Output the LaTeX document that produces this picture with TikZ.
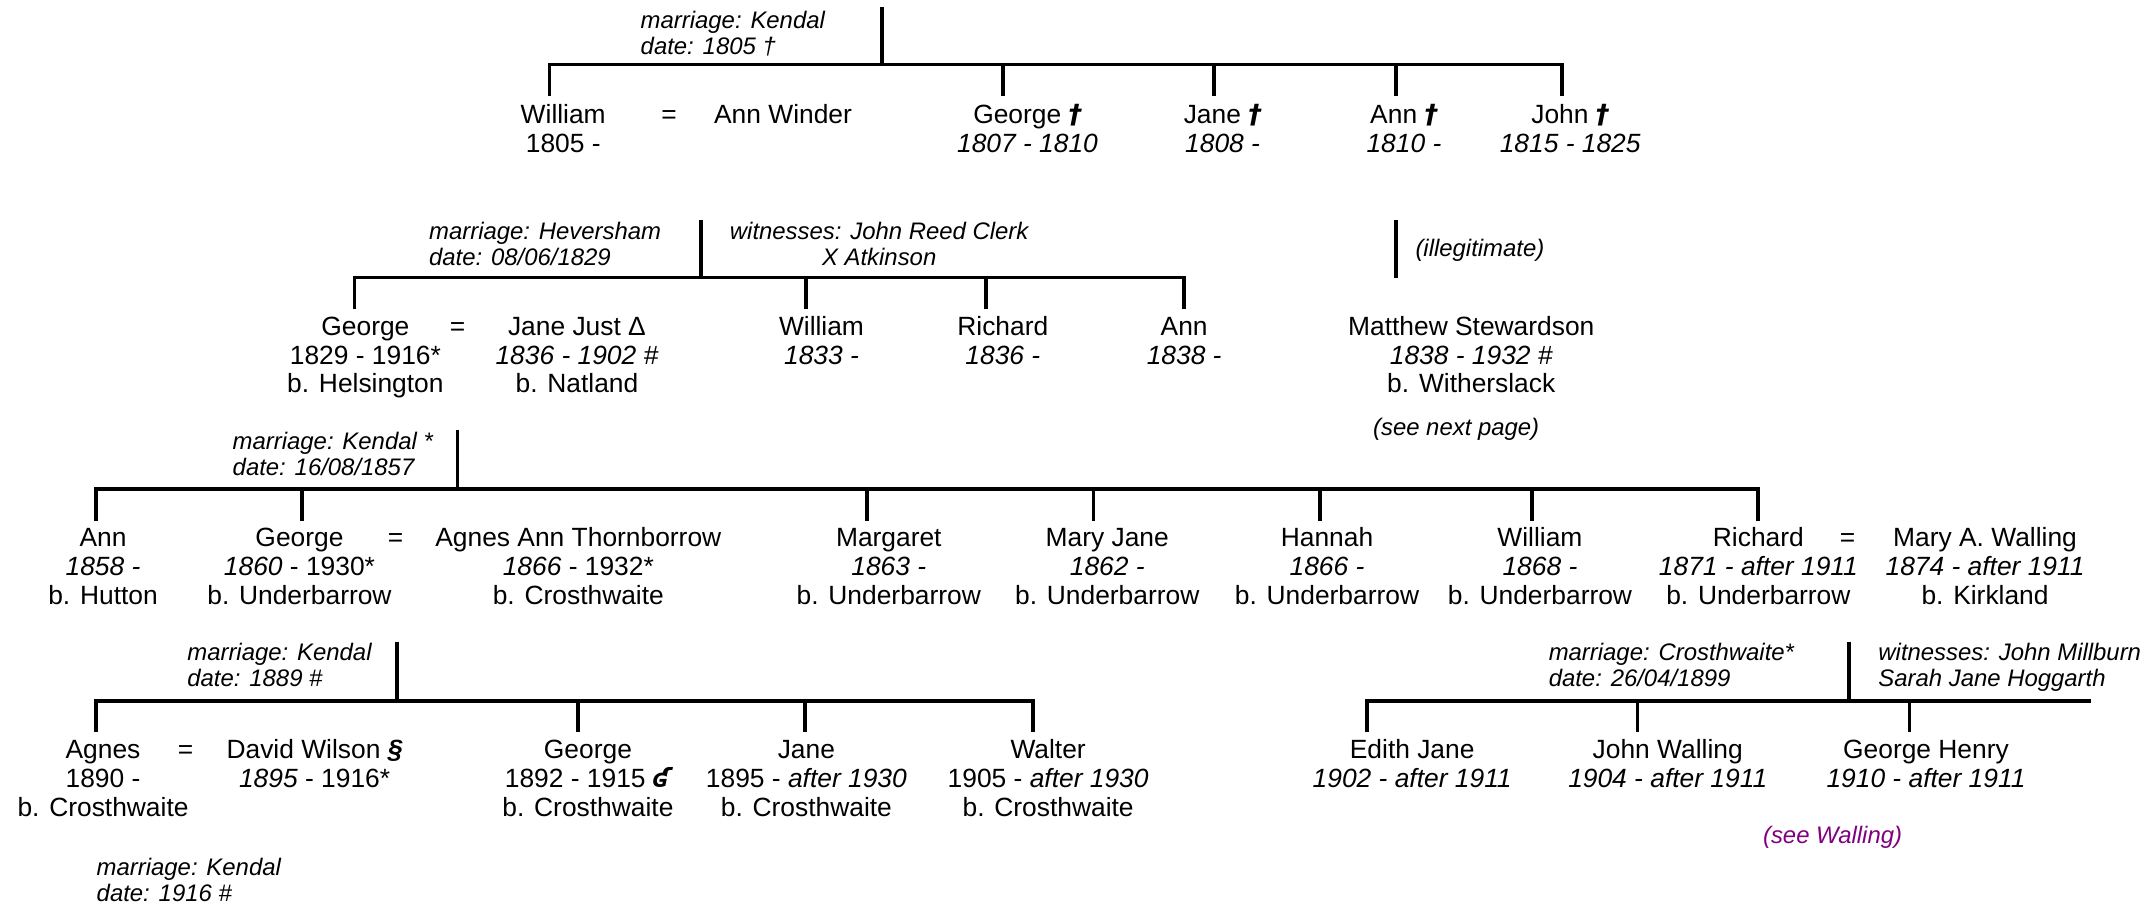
\documentclass[tikz,border=0pt]{standalone}
\usepackage{fontspec}
\setmainfont{Liberation Sans}
\newfontfamily\djv{DejaVu Sans}
\definecolor{seecol}{RGB}{128,0,128}
\newcommand{\mainsz}{\fontsize{9.6}{10.5}\selectfont}
\newcommand{\smsz}{\fontsize{8.7}{9.5}\selectfont\itshape}
\newcommand{\cblk}[1]{\begin{tabular}[t]{@{}c@{}}#1\end{tabular}}
\newcommand{\lblk}[1]{\begin{tabular}[t]{@{}l@{}}#1\end{tabular}}
\newcommand{\dg}{{\djv\bfseries\itshape †}}
\begin{document}
\begin{tikzpicture}[x=0.5pt,y=-0.5pt,
  person/.style={anchor=base,inner sep=0pt,font=\mainsz},
  note/.style={anchor=base west,inner sep=0pt,font=\smsz},
  cnote/.style={anchor=base,inner sep=0pt,font=\smsz},
  line/.style={line width=1.4pt}]
\useasboundingbox (0,0) rectangle (1568,659.6);

% ---------- generation 1 ----------
\coordinate (p1) at (642,5);
\coordinate (j1) at (642,47);
\coordinate (d1a) at (400,70);
\coordinate (d1b) at (730,70);
\coordinate (d1c) at (884,70);
\coordinate (d1d) at (1016,70);
\coordinate (d1e) at (1137,70);
\draw[line] (p1) -- (j1);
\draw[line] (d1a) |- (d1e |- j1) -- (d1e);
\foreach \d in {d1b,d1c,d1d} \draw[line] (\d) -- (\d |- j1);
\node[note] (m1) at (466,21) {\lblk{marriage: Kendal\\date: 1805 †}};
\node[person] (w1) at (410,90) {\cblk{William\\1805 -}};
\node[person] (e1) at (487,90) {=};
\node[person] (aw1) at (570,90) {Ann Winder};
\node[person] (g1) at (748,90) {\cblk{George \dg\\\itshape 1807 - 1810}};
\node[person] (ja1) at (890,90) {\cblk{Jane \dg\\\itshape 1808 -}};
\node[person] (an1) at (1022,90) {\cblk{Ann \dg\\\itshape 1810 -}};
\node[person] (jo1) at (1143,90) {\cblk{John \dg\\\itshape 1815 - 1825}};

% ---------- generation 2 ----------
\coordinate (p2) at (510,160);
\coordinate (j2) at (510,202);
\coordinate (d2a) at (258,225);
\coordinate (d2b) at (587,225);
\coordinate (d2c) at (718,225);
\coordinate (d2d) at (862,225);
\draw[line] (p2) -- (j2);
\draw[line] (d2a) |- (d2d |- j2) -- (d2d);
\foreach \d in {d2b,d2c} \draw[line] (\d) -- (\d |- j2);
\node[note] (m2) at (312,174) {\lblk{marriage: Heversham\\date: 08/06/1829}};
\node[cnote] (wt2) at (640,174) {\cblk{witnesses: John Reed Clerk\\X Atkinson}};
\node[person] (g2) at (266,244) {\cblk{George\\1829 - 1916*\\b. Helsington}};
\node[person] (e2) at (333,244) {=};
\node[person] (jj2) at (420,244) {\cblk{Jane Just Δ\\\itshape 1836 - 1902 \#\\b. Natland}};
\node[person] (w2) at (598,244) {\cblk{William\\\itshape 1833 -}};
\node[person] (r2) at (730,244) {\cblk{Richard\\\itshape 1836 -}};
\node[person] (a2) at (862,244) {\cblk{Ann\\\itshape 1838 -}};

% illegitimate branch
\coordinate (p3) at (1016,160);
\coordinate (q3) at (1016,202);
\draw[line] (p3) -- (q3);
\node[note] (il) at (1030,187) {(illegitimate)};
\node[person] (ms) at (1071,244) {\cblk{Matthew Stewardson\\\itshape 1838 - 1932 \#\\b. Witherslack}};
\node[cnote] (np) at (1060,317) {(see next page)};

% ---------- generation 3 ----------
\coordinate (p4) at (333,313);
\coordinate (j4) at (333,356);
\coordinate (d3a) at (70,379);
\coordinate (d3b) at (220,379);
\coordinate (d3c) at (631,379);
\coordinate (d3d) at (796,379);
\coordinate (d3e) at (961,379);
\coordinate (d3f) at (1115,379);
\coordinate (d3g) at (1280,379);
\draw[line] (p4) -- (j4);
\draw[line] (d3a) |- (d3g |- j4) -- (d3g);
\foreach \d in {d3b,d3c,d3d,d3e,d3f} \draw[line] (\d) -- (\d |- j4);
\node[note] (m3) at (169,327) {\lblk{marriage: Kendal *\\date: 16/08/1857}};
\node[person] (a3) at (75,398) {\cblk{Ann\\\itshape 1858 -\\b. Hutton}};
\node[person] (g3) at (218,398) {\cblk{George\\\textit{1860} - 1930*\\b. Underbarrow}};
\node[person] (e3) at (288,398) {=};
\node[person] (at3) at (421,398) {\cblk{Agnes Ann Thornborrow\\\textit{1866} - 1932*\\b. Crosthwaite}};
\node[person] (mg3) at (647,398) {\cblk{Margaret\\\itshape 1863 -\\b. Underbarrow}};
\node[person] (mj3) at (806,398) {\cblk{Mary Jane\\\itshape 1862 -\\b. Underbarrow}};
\node[person] (h3) at (966,398) {\cblk{Hannah\\\itshape 1866 -\\b. Underbarrow}};
\node[person] (w3) at (1121,398) {\cblk{William\\\itshape 1868 -\\b. Underbarrow}};
\node[person] (r3) at (1280,398) {\cblk{Richard\\\itshape 1871 - after 1911\\b. Underbarrow}};
\node[person] (e3b) at (1345,398) {=};
\node[person] (mw3) at (1445,398) {\cblk{Mary A. Walling\\\itshape 1874 - after 1911\\b. Kirkland}};

% ---------- generation 4 (left) ----------
\coordinate (p5) at (289,467);
\coordinate (j5) at (289,510);
\coordinate (d4a) at (70,533);
\coordinate (d4b) at (421,533);
\coordinate (d4c) at (586,533);
\coordinate (d4d) at (752,533);
\draw[line] (p5) -- (j5);
\draw[line] (d4a) |- (d4d |- j5) -- (d4d);
\foreach \d in {d4b,d4c} \draw[line] (\d) -- (\d |- j5);
\node[note] (m4) at (136,481) {\lblk{marriage: Kendal\\date: 1889 \#}};
\node[person] (ag4) at (75,552) {\cblk{Agnes\\1890 -\\b. Crosthwaite}};
\node[person] (e4) at (135,552) {=};
\node[person] (dw4) at (229,552) {\cblk{David Wilson \textbf{\textit{\S}}\\\textit{1895} - 1916*}};
\node[person] (g4) at (428,552) {\cblk{George\\1892 - 1915 {\djv\bfseries\itshape ʛ}\\b. Crosthwaite}};
\node[person] (ja4) at (587,552) {\cblk{Jane\\1895 - \textit{after 1930}\\b. Crosthwaite}};
\node[person] (wa4) at (763,552) {\cblk{Walter\\1905 - \textit{after 1930}\\b. Crosthwaite}};
\node[note] (m6) at (70,637) {\lblk{marriage: Kendal\\date: 1916 \#}};

% ---------- generation 4 (right) ----------
\coordinate (p6) at (1346,467);
\coordinate (j6) at (1346,510);
\coordinate (d5a) at (995,533);
\coordinate (d5b) at (1192,533);
\coordinate (d5c) at (1390,533);
\coordinate (b5r) at (1522,510);
\draw[line] (p6) -- (j6);
\draw[line] (d5a) |- (b5r);
\foreach \d in {d5b,d5c} \draw[line] (\d) -- (\d |- j6);
\node[note] (m5) at (1127,481) {\lblk{marriage: Crosthwaite*\\date: 26/04/1899}};
\node[note] (wt5) at (1367,481) {\lblk{witnesses: John Millburn\\Sarah Jane Hoggarth}};
\node[person] (ej5) at (1028,552) {\cblk{Edith Jane\\\itshape 1902 - after 1911}};
\node[person] (jw5) at (1214,552) {\cblk{John Walling\\\itshape 1904 - after 1911}};
\node[person] (gh5) at (1402,552) {\cblk{George Henry\\\itshape 1910 - after 1911}};
\node[cnote,text=seecol] (sw) at (1334,614) {(see Walling)};
\end{tikzpicture}
\end{document}
